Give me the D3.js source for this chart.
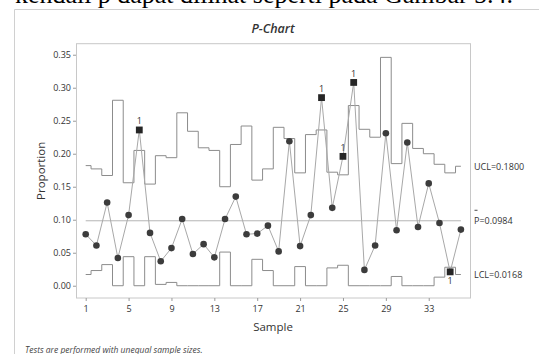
<!DOCTYPE html>
<html>
<head>
<meta charset="utf-8">
<script src="https://cdn.jsdelivr.net/npm/d3@7"></script>
<style>
  body { margin: 0; background: #fff; }
  svg { display: block; }
  .tick text { font-family: 'Open Sans', sans-serif; font-size: 9px; fill: #333; }
  .tick line { stroke: #9a9a9a; }
</style>
</head>
<body>
<div id="chart"></div>
<script>
// sample numbers
const samples = [1, 2, 3, 4, 5, 6, 7, 8, 9, 10, 11, 12, 13, 14, 15, 16, 17, 18,
                 19, 20, 21, 22, 23, 24, 25, 26, 27, 28, 29, 30, 31, 32, 33, 34, 35, 36]
// proportion defective per sample
const proportion = [0.078, 0.061, 0.126, 0.042, 0.107, 0.236, 0.080, 0.037, 0.057,
                    0.101, 0.048, 0.063, 0.043, 0.101, 0.135, 0.078, 0.079, 0.091,
                    0.052, 0.219, 0.060, 0.107, 0.285, 0.118, 0.196, 0.308, 0.024,
                    0.061, 0.231, 0.084, 0.217, 0.089, 0.155, 0.095, 0.021, 0.085]
// limits per sample (unequal sample sizes)
const ucl = [0.182, 0.177, 0.167, 0.281, 0.156, 0.205, 0.154, 0.197, 0.194,
             0.262, 0.234, 0.209, 0.205, 0.150, 0.214, 0.242, 0.160, 0.177,
             0.240, 0.223, 0.171, 0.229, 0.236, 0.172, 0.168, 0.273, 0.237,
             0.225, 0.346, 0.185, 0.246, 0.208, 0.200, 0.184, 0.171, 0.181]
const lcl = [0.017, 0.023, 0.032, 0, 0.044, 0, 0.044, 0.002, 0.005,
             0, 0, 0, 0, 0.051, 0, 0, 0.040, 0.023,
             0, 0, 0.029, 0, 0, 0.027, 0.031, 0, 0,
             0, 0, 0.014, 0, 0, 0, 0.013, 0.028, 0.017]
const pBar = 0.0984
const uclLabel = 0.1800
const lclLabel = 0.0168
const yTicks = [0, 0.05, 0.10, 0.15, 0.20, 0.25, 0.30, 0.35]
const xTicks = [1, 5, 9, 13, 17, 21, 25, 29, 33]

const W = 539, H = 354
const plot = { left: 76, right: 470, top: 43.7, bottom: 298 }
const font = "'Open Sans', sans-serif"

const svg = d3.select('#chart').append('svg').attr('width', W).attr('height', H)

// cut-off line of the surrounding document
svg.append('text')
    .attr('x', 15).attr('y', 3)
    .attr('textLength', 498).attr('lengthAdjust', 'spacing')
    .style('font-family', "'Liberation Serif', serif").style('font-size', '26px').style('fill', '#000')
    .text('kendali p dapat dilihat seperti pada Gambar 5.4.')

// figure frame
svg.append('path')
    .attr('d', `M14.5,${H}V9.5H${W}`)
    .attr('fill', 'none').attr('stroke', '#d0d0d0')

const x = d3.scaleLinear().domain([0.095, 36.85]).range([plot.left, plot.right])
const y = d3.scaleLinear().domain([-0.0186, 0.3667]).range([plot.bottom, plot.top])

svg.append('rect')
    .attr('x', plot.left + 0.5).attr('y', plot.top)
    .attr('width', plot.right - plot.left).attr('height', plot.bottom - plot.top)
    .attr('fill', 'none').attr('stroke', '#c8c8c8')

const yAxis = svg.append('g').attr('transform', `translate(${plot.left},0)`)
    .call(d3.axisLeft(y).tickValues(yTicks).tickFormat(d3.format('.2f')).tickSize(3).tickPadding(2))
yAxis.select('.domain').remove()

const xAxis = svg.append('g').attr('transform', `translate(0,${plot.bottom})`)
    .call(d3.axisBottom(x).tickValues(xTicks).tickFormat(d3.format('d')).tickSize(3).tickPadding(5))
xAxis.select('.domain').remove()

// limits
const stepLine = d3.line().x((d, i) => x(samples[i])).y(d => y(d)).curve(d3.curveStep)
svg.append('path').attr('d', stepLine(ucl)).attr('fill', 'none').attr('stroke', '#8c8c8c').attr('stroke-width', 1)
svg.append('path').attr('d', stepLine(lcl)).attr('fill', 'none').attr('stroke', '#8c8c8c').attr('stroke-width', 1)

svg.append('line')
    .attr('x1', x(samples[0])).attr('x2', x(samples[samples.length - 1]))
    .attr('y1', y(pBar)).attr('y2', y(pBar))
    .attr('stroke', '#b4b4b4')

// data line and points
const pts = samples.map((s, i) => ({ s, p: proportion[i], hi: proportion[i] > ucl[i], lo: proportion[i] < lcl[i] }))
svg.append('path')
    .attr('d', d3.line().x(d => x(d.s)).y(d => y(d.p))(pts))
    .attr('fill', 'none').attr('stroke', '#a8a8a8').attr('stroke-width', 1)

svg.selectAll('.pt').data(pts.filter(d => !d.hi && !d.lo))
    .enter().append('circle').attr('class', 'pt')
    .attr('cx', d => x(d.s)).attr('cy', d => y(d.p)).attr('r', 3.3)
    .attr('fill', '#3c3c3c')

const flagged = pts.filter(d => d.hi || d.lo)
svg.selectAll('.flag').data(flagged)
    .enter().append('rect').attr('class', 'flag')
    .attr('x', d => x(d.s) - 3.4).attr('y', d => y(d.p) - 3.4)
    .attr('width', 6.8).attr('height', 6.8)
    .attr('fill', '#262626')
svg.selectAll('.flagText').data(flagged)
    .enter().append('text').attr('class', 'flagText')
    .attr('x', d => x(d.s)).attr('y', d => d.hi ? y(d.p) - 5.5 : y(d.p) + 12)
    .attr('text-anchor', 'middle')
    .style('font-family', font).style('font-size', '9px').style('fill', '#333')
    .text('1')

// limit labels
const labels = [
    { v: uclLabel, t: 'UCL=' + uclLabel.toFixed(4) },
    { v: pBar, t: 'P=' + pBar.toFixed(4) },
    { v: lclLabel, t: 'LCL=' + lclLabel.toFixed(4) }
]
svg.selectAll('.lim').data(labels)
    .enter().append('text').attr('class', 'lim')
    .attr('x', 474).attr('y', d => y(d.v)).attr('dy', '0.35em')
    .style('font-family', font).style('font-size', '9px').style('fill', '#333')
    .text(d => d.t)
svg.append('line')
    .attr('x1', 474.5).attr('x2', 477.5)
    .attr('y1', y(pBar) - 10.5).attr('y2', y(pBar) - 10.5)
    .attr('stroke', '#333').attr('stroke-width', 0.9)

// titles
svg.append('text')
    .attr('x', (plot.left + plot.right) / 2).attr('y', 33)
    .attr('text-anchor', 'middle')
    .style('font-family', font).style('font-size', '12.5px').style('font-style', 'italic').style('font-weight', 600).style('fill', '#333')
    .text('P-Chart')
svg.append('text')
    .attr('transform', `translate(45,${(plot.top + plot.bottom) / 2}) rotate(-90)`)
    .attr('text-anchor', 'middle')
    .style('font-family', font).style('font-size', '11.5px').style('fill', '#333')
    .text('Proportion')
svg.append('text')
    .attr('x', (plot.left + plot.right) / 2).attr('y', 331)
    .attr('text-anchor', 'middle')
    .style('font-family', font).style('font-size', '11.5px').style('fill', '#333')
    .text('Sample')

svg.append('text')
    .attr('x', 25).attr('y', 353)
    .style('font-family', font).style('font-size', '8.5px').style('font-style', 'italic').style('fill', '#444')
    .text('Tests are performed with unequal sample sizes.')
</script>
</body>
</html>
